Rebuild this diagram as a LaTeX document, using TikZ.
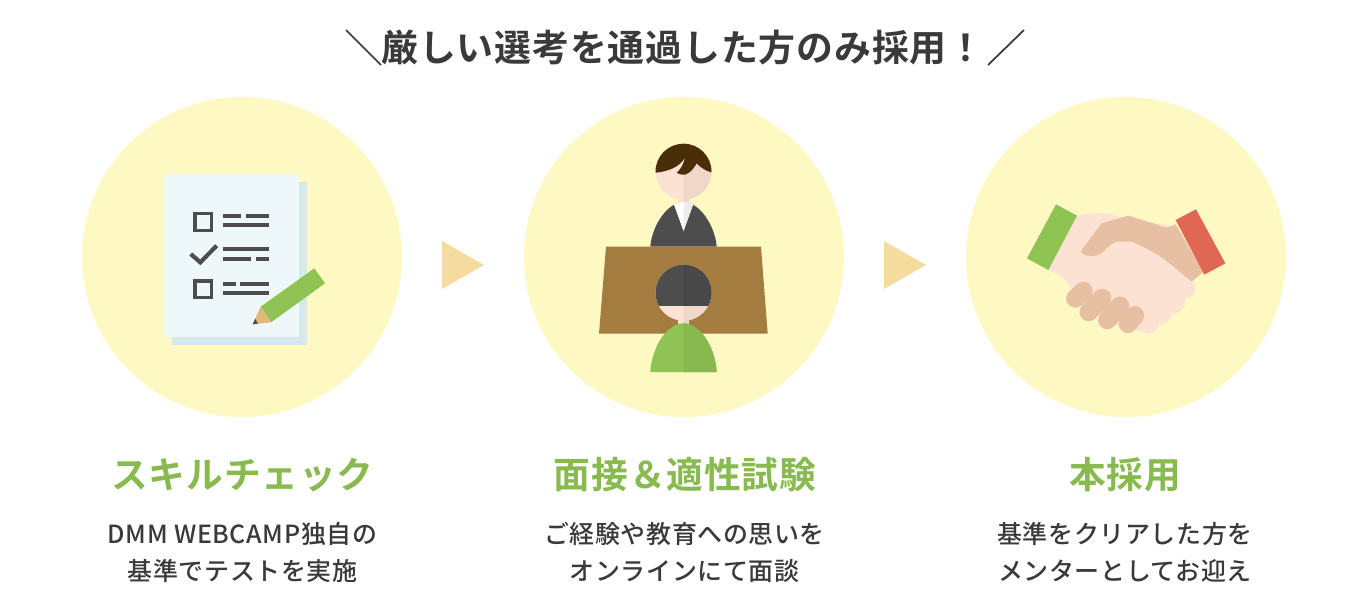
\documentclass[tikz,border=0pt]{standalone}
\usepackage{fontspec}
\setmainfont{Noto Sans CJK JP}
\newfontfamily\cjklight[LetterSpace=2.6]{Noto Sans CJK JP Medium}
\newfontfamily\cjkbold[LetterSpace=2.3]{Noto Sans CJK JP Bold}
\definecolor{circlebg}{HTML}{FEF8C3}
\definecolor{arrowbg}{HTML}{F5DC9E}
\definecolor{leaf}{HTML}{8FC454}
\definecolor{leafdark}{HTML}{88B84F}
\definecolor{ink}{HTML}{4D4D4D}
\definecolor{inkdark}{HTML}{484848}
\definecolor{textink}{HTML}{3A3A3A}
\definecolor{sheet}{HTML}{EEF8FA}
\definecolor{sheetback}{HTML}{D5E8EC}
\definecolor{wood}{HTML}{E3B778}
\definecolor{skin}{HTML}{FBE2D2}
\definecolor{skindark}{HTML}{F0D8C8}
\definecolor{palm}{HTML}{E7BFA3}
\definecolor{hair}{HTML}{4A2E0A}
\definecolor{desk}{HTML}{A57C3F}
\definecolor{cuff}{HTML}{DF6753}
\begin{document}
\begin{tikzpicture}[x=0.02cm,y=-0.02cm,
  titletext/.style={text=textink,font=\cjkbold\fontsize{21}{24}\selectfont,inner sep=0},
  headtext/.style={text=leaf!95!black,font=\cjkbold\fontsize{20.9}{24}\selectfont,inner sep=0},
  bodytext/.style={text=textink,font=\cjklight\fontsize{14.2}{21}\selectfont,align=center,inner sep=0},
  stepmark/.style={fill=arrowbg},
  rowline/.style={fill=ink},
  finger/.style={draw=palm,line width=18.5*0.02cm,line cap=round}]
\useasboundingbox (0,0) rectangle (1366,592);
\fill[white] (0,0) rectangle (1366,592);
% title
\node[titletext] (title) at (683,48) {厳しい選考を通過した方のみ採用！};
\draw[textink,line width=0.035cm] (346,30) -- (381,65);
\draw[textink,line width=0.035cm] (1024,30) -- (988,65);
% circles and arrows
\fill[circlebg] (242,257) circle (160);
\fill[circlebg] (684,257) circle (160);
\fill[circlebg] (1126,257) circle (160);
\fill[stepmark] (442,241) -- (442,289) -- (484,265) -- cycle;
\fill[stepmark] (884,241) -- (884,289) -- (926,265) -- cycle;
% sheet
\fill[sheetback] (171.7,182) rectangle (307,345);
\fill[sheet] (163.7,174) rectangle (299,337);
\draw[ink,line width=3.2*0.02cm] (194.9,213.3) rectangle (211.7,230.1);
\draw[ink,line width=3.2*0.02cm] (194.9,280.9) rectangle (211.7,297.7);
\draw[ink,line width=4.2*0.02cm] (190.7,254) -- (200.3,262.3) -- (216.7,245.7);
\fill[rowline] (223.3,213.7) rectangle (240.7,217.7);
\fill[rowline] (245.7,213.7) rectangle (269.3,217.7);
\fill[rowline] (223.3,223.3) rectangle (269.3,227.3);
\fill[rowline] (223.3,247.3) rectangle (269.3,251.3);
\fill[rowline] (223.3,257.3) rectangle (251.3,261.3);
\fill[rowline] (255.7,257.3) rectangle (269.3,261.3);
\fill[rowline] (223.3,281.7) rectangle (235.7,285.7);
\fill[rowline] (239.7,281.7) rectangle (269.3,285.7);
\fill[rowline] (223.3,291.3) rectangle (269.3,295.3);
% pencil
\fill[leaf] (314.3,268.3) -- (325,283.3) -- (271,322.3) -- (260.7,306.7) -- cycle;
\fill[wood] (260.7,306.7) -- (271,322.3) -- (252.7,324.3) -- cycle;
\fill[ink] (252.7,324.3) -- (257.8,323.7) -- (255.3,318.6) -- cycle;
% back person
\fill[ink] (650.3,246.7) .. controls (652,225) and (668,202) .. (683.5,202) .. controls (699,202) and (715,225) .. (716.7,246.7) -- cycle;
\fill[skin] (678,195) rectangle (689,204);
\fill[skindark] (683.5,195) rectangle (689,204);
\fill[white] (673.7,204) -- (683.5,202) -- (693.3,204) -- (683.5,231) -- cycle;
\fill[white!93!black] (693.3,204) -- (683.5,202) -- (683.5,231) -- cycle;
\fill[skin] (683.5,171.7) circle (28);
\begin{scope}
\clip (683.5,130) rectangle (730,210);
\fill[skindark] (683.5,171.7) circle (28);
\end{scope}
\begin{scope}
\clip (683.5,171.7) circle (28);
\fill[hair] (650,173) .. controls (664,173) and (680,168) .. (685,157.3)
  .. controls (684,164) and (680,170) .. (676.7,172.7)
  .. controls (680,175) and (684,175) .. (686,174.3)
  .. controls (692,172) and (695,166) .. (696.7,163.3)
  .. controls (701,168) and (706,171.5) .. (716,173.5)
  -- (716,135) -- (650,135) -- cycle;
\end{scope}
% desk
\fill[desk] (606,246.7) -- (761,246.7) -- (767.7,333.7) -- (599,333.7) -- cycle;
% front person
\fill[skin] (683.5,292.7) circle (28);
\begin{scope}
\clip (683.5,250) rectangle (730,340);
\fill[skindark] (683.5,292.7) circle (28);
\end{scope}
\begin{scope}
\clip (640,250) rectangle (730,305);
\fill[ink] (683.5,292.7) circle (28);
\end{scope}
\begin{scope}
\clip (683.5,250) rectangle (730,305);
\fill[inkdark] (683.5,292.7) circle (28);
\end{scope}
\fill[skin] (678,318) rectangle (689,326);
\fill[skindark] (683.5,318) rectangle (689,326);
\fill[leaf] (650.3,372) .. controls (652,345) and (668,323.3) .. (683.5,323.3) .. controls (699,323.3) and (715,345) .. (716.7,372) -- cycle;
\fill[leafdark] (716.7,372) .. controls (715,345) and (699,323.3) .. (683.5,323.3) -- (683.5,372) -- cycle;
% handshake
\begin{scope}[shift={(1010,190)},x=0.02cm/3,y=-0.02cm/3]
\fill[skin] (195,80) .. controls (230,68) and (290,62) .. (340,85) -- (500,110) -- (580,245) -- (545,275)
  .. controls (565,290) and (560,325) .. (525,325)
  .. controls (530,350) and (510,372) .. (487,370)
  .. controls (485,390) and (465,402) .. (445,405)
  .. controls (440,432) and (420,436) .. (400,425)
  -- (300,400) -- (180,290) .. controls (165,265) and (145,250) .. (115,240) -- cycle;
\fill[palm] (215,180) -- (275,100) -- (355,77) -- (470,113) -- (497,103) -- (580,245) -- (545,275)
  -- (460,205) .. controls (420,180) and (390,165) .. (365,155) -- (320,155)
  .. controls (300,160) and (290,180) .. (270,192) .. controls (250,205) and (205,195) .. (215,180) -- cycle;
\fill[leaf] (138,43) -- (201,77) -- (115,240) -- (51,205) -- cycle;
\fill[cuff] (497,90) -- (558,58) -- (646,220) -- (583,254) -- cycle;
\draw[finger] (220,303) -- (196,325);
\draw[finger] (276,324) -- (236,366);
\draw[finger] (330,347) -- (292,390);
\draw[finger] (375,376) -- (354,402);
\end{scope}
% labels
\node[headtext] (skillcheck) at (242.5,475) {スキルチェック};
\node[headtext] (interview) at (685,475) {面接＆適性試験};
\node[headtext] (hiring) at (1125,475) {本採用};
\node[bodytext] (skilltext) at (242.5,552.5) {DMM WEBCAMP独自の\\基準でテストを実施};
\node[bodytext] (interviewtext) at (684.5,552.5) {ご経験や教育への思いを\\オンラインにて面談};
\node[bodytext] (hiringtext) at (1125,552.5) {基準をクリアした方を\\メンターとしてお迎え};
\end{tikzpicture}
\end{document}
